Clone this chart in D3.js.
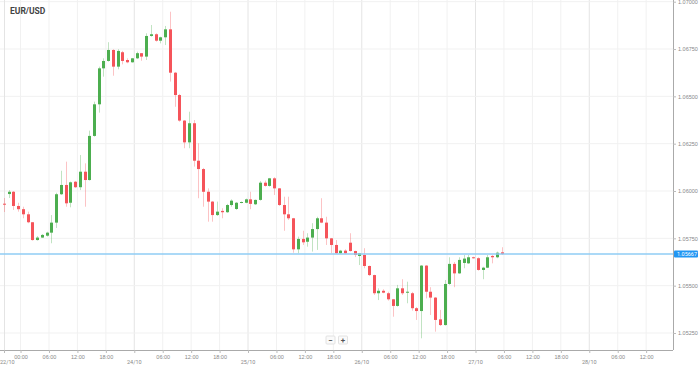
<!DOCTYPE html>
<html lang="en">
<head>
<meta charset="utf-8">
<title>EUR/USD</title>
<script src="https://d3js.org/d3.v7.min.js"></script>
<style>
  body { margin: 0; background: #fff; }
  svg { display: block; font-family: "Roboto", "Liberation Sans", sans-serif; }
</style>
</head>
<body>
<div id="chart"></div>
<script>
// hourly candles, first one opens 22/10 20:00 (UTC)
const firstCandle = Date.UTC(2016, 9, 22, 20);

const open = [
  1.05933, 1.05984, 1.05996, 1.05921, 1.05904, 1.05877, 1.05835, 1.05741, 1.05754, 1.05764,
  1.05780, 1.05833, 1.05983, 1.06032, 1.05938, 1.06049, 1.06020, 1.06102, 1.06058, 1.06291,
  1.06458, 1.06648, 1.06687, 1.06745, 1.06657, 1.06733, 1.06692, 1.06680, 1.06701, 1.06728,
  1.06710, 1.06819, 1.06828, 1.06794, 1.06812, 1.06854, 1.06625, 1.06507, 1.06372, 1.06257,
  1.06358, 1.06160, 1.06116, 1.05996, 1.05944, 1.05873, 1.05895, 1.05888, 1.05926, 1.05905,
  1.05938, 1.05938, 1.05956, 1.05930, 1.05953, 1.06044, 1.06027, 1.06067, 1.06014, 1.05926,
  1.05877, 1.05856, 1.05692, 1.05747, 1.05732, 1.05754, 1.05799, 1.05856, 1.05833, 1.05750,
  1.05715, 1.05671, 1.05685, 1.05727, 1.05683, 1.05657, 1.05662, 1.05604, 1.05556, 1.05460,
  1.05473, 1.05460, 1.05428, 1.05393, 1.05486, 1.05465, 1.05460, 1.05381, 1.05366, 1.05606,
  1.05468, 1.05437, 1.05322, 1.05292, 1.05509, 1.05615, 1.05565, 1.05620, 1.05618, 1.05650,
  1.05645, 1.05583, 1.05595, 1.05657, 1.05650, 1.05676
];
const high = [
  1.05963, 1.06005, 1.06000, 1.05938, 1.05917, 1.05891, 1.05836, 1.05762, 1.05773, 1.05785,
  1.05873, 1.05991, 1.06107, 1.06155, 1.06050, 1.06053, 1.06190, 1.06146, 1.06319, 1.06472,
  1.06657, 1.06701, 1.06786, 1.06749, 1.06749, 1.06740, 1.06701, 1.06703, 1.06736, 1.06729,
  1.06833, 1.06877, 1.06833, 1.06815, 1.06872, 1.06947, 1.06629, 1.06513, 1.06375, 1.06419,
  1.06375, 1.06252, 1.06122, 1.06014, 1.05947, 1.05944, 1.05909, 1.05932, 1.05956, 1.05942,
  1.05945, 1.05960, 1.05996, 1.05955, 1.06053, 1.06055, 1.06069, 1.06073, 1.06016, 1.05970,
  1.05970, 1.05858, 1.05759, 1.05790, 1.05777, 1.05830, 1.05864, 1.05962, 1.05864, 1.05752,
  1.05741, 1.05689, 1.05692, 1.05777, 1.05685, 1.05673, 1.05698, 1.05606, 1.05558, 1.05486,
  1.05481, 1.05468, 1.05430, 1.05504, 1.05534, 1.05521, 1.05467, 1.05387, 1.05609, 1.05609,
  1.05492, 1.05440, 1.05372, 1.05530, 1.05650, 1.05625, 1.05650, 1.05662, 1.05662, 1.05653,
  1.05650, 1.05600, 1.05662, 1.05662, 1.05680, 1.05703
];
const low = [
  1.05889, 1.05963, 1.05900, 1.05891, 1.05856, 1.05830, 1.05738, 1.05738, 1.05752, 1.05759,
  1.05724, 1.05805, 1.05979, 1.05917, 1.05914, 1.06016, 1.06005, 1.05917, 1.06055, 1.06287,
  1.06414, 1.06604, 1.06683, 1.06609, 1.06643, 1.06669, 1.06675, 1.06678, 1.06697, 1.06688,
  1.06692, 1.06815, 1.06789, 1.06780, 1.06771, 1.06578, 1.06445, 1.06366, 1.06226, 1.06226,
  1.06129, 1.05962, 1.05917, 1.05838, 1.05838, 1.05868, 1.05856, 1.05884, 1.05917, 1.05900,
  1.05935, 1.05935, 1.05904, 1.05926, 1.05949, 1.06023, 1.06023, 1.05979, 1.05921, 1.05790,
  1.05847, 1.05674, 1.05671, 1.05715, 1.05706, 1.05680, 1.05689, 1.05830, 1.05715, 1.05671,
  1.05667, 1.05667, 1.05667, 1.05680, 1.05651, 1.05609, 1.05592, 1.05551, 1.05451, 1.05424,
  1.05460, 1.05421, 1.05336, 1.05389, 1.05451, 1.05407, 1.05368, 1.05319, 1.05222, 1.05433,
  1.05345, 1.05257, 1.05287, 1.05289, 1.05504, 1.05492, 1.05562, 1.05592, 1.05615, 1.05643,
  1.05579, 1.05534, 1.05593, 1.05618, 1.05645, 1.05662
];
const close = [
  1.05930, 1.05996, 1.05921, 1.05904, 1.05877, 1.05835, 1.05741, 1.05754, 1.05768, 1.05780,
  1.05833, 1.05983, 1.06032, 1.05935, 1.06046, 1.06020, 1.06102, 1.06058, 1.06291, 1.06458,
  1.06648, 1.06687, 1.06745, 1.06657, 1.06740, 1.06687, 1.06680, 1.06701, 1.06728, 1.06710,
  1.06819, 1.06828, 1.06794, 1.06812, 1.06854, 1.06625, 1.06507, 1.06372, 1.06257, 1.06358,
  1.06160, 1.06116, 1.05996, 1.05944, 1.05873, 1.05891, 1.05888, 1.05926, 1.05949, 1.05938,
  1.05942, 1.05956, 1.05932, 1.05953, 1.06044, 1.06027, 1.06067, 1.06014, 1.05926, 1.05877,
  1.05856, 1.05692, 1.05747, 1.05729, 1.05754, 1.05799, 1.05856, 1.05833, 1.05750, 1.05715,
  1.05671, 1.05685, 1.05671, 1.05683, 1.05662, 1.05671, 1.05604, 1.05556, 1.05460, 1.05473,
  1.05463, 1.05428, 1.05393, 1.05486, 1.05460, 1.05468, 1.05381, 1.05366, 1.05606, 1.05468,
  1.05437, 1.05319, 1.05292, 1.05509, 1.05615, 1.05565, 1.05636, 1.05643, 1.05650, 1.05645,
  1.05583, 1.05595, 1.05650, 1.05650, 1.05674, 1.05667
];

const priceTicks = [1.0525, 1.0550, 1.0575, 1.0600, 1.0625, 1.0650, 1.0675, 1.0700];
const lastPrice = 1.05667;
const title = "EUR/USD";
const pinnedDay = "22/10";

const width = 699, height = 365;
const plotRight = 673, plotBottom = 350;

const green = "#4cae4f", red = "#f5545a";

const svg = d3.select("#chart").append("svg")
  .attr("width", width)
  .attr("height", height);

// time scale: 23/10 00:00 sits at ~20.5px, ~113.75px per day
const x = d3.scaleUtc()
  .domain([new Date(Date.UTC(2016, 9, 22, 19, 40)), new Date(Date.UTC(2016, 9, 28, 17, 40))])
  .range([0, plotRight]);

const y = d3.scaleLinear()
  .domain([1.0525, 1.0700])
  .range([333, 1.7]);

const candles = open.map((o, i) => ({
  t: new Date(firstCandle + i * 3600e3 + 1800e3),
  o: o, h: high[i], l: low[i], c: close[i]
}));

const timeTicks = x.ticks(d3.utcHour.every(6));
// the first midnight is shown as a time, its date is pinned at the left edge
const firstMidnight = +timeTicks.find(d => d.getUTCHours() === 0);
const isDay = d => d.getUTCHours() === 0 && +d !== firstMidnight;

// grid
svg.append("g").selectAll("line")
  .data(timeTicks)
  .join("line")
  .attr("x1", d => x(d)).attr("x2", d => x(d))
  .attr("y1", 0).attr("y2", plotBottom)
  .attr("stroke", d => isDay(d) ? "#e4e4e4" : "#f1f1f1")
  .attr("stroke-width", 1);

svg.append("g").selectAll("line")
  .data(priceTicks)
  .join("line")
  .attr("x1", 0).attr("x2", plotRight)
  .attr("y1", d => y(d)).attr("y2", d => y(d))
  .attr("stroke", "#f1f1f1");

svg.append("line")
  .attr("x1", 4.5).attr("x2", 4.5)
  .attr("y1", 0).attr("y2", plotBottom)
  .attr("stroke", "#e4e4e4");

// candles
const bw = 3;
const cg = svg.append("g");
cg.selectAll("line")
  .data(candles)
  .join("line")
  .attr("x1", d => Math.round(x(d.t)) + 0.5)
  .attr("x2", d => Math.round(x(d.t)) + 0.5)
  .attr("y1", d => y(d.h))
  .attr("y2", d => y(d.l))
  .attr("stroke", d => d.c >= d.o ? green : red)
  .attr("stroke-opacity", 0.35)
  .attr("stroke-width", 1);

cg.selectAll("rect")
  .data(candles)
  .join("rect")
  .attr("x", d => Math.round(x(d.t)) + 0.5 - bw / 2)
  .attr("width", bw)
  .attr("y", d => y(Math.max(d.o, d.c)))
  .attr("height", d => Math.max(1, Math.abs(y(d.o) - y(d.c))))
  .attr("fill", d => d.c >= d.o ? green : red);

// current price line
svg.append("line")
  .attr("x1", 0).attr("x2", plotRight)
  .attr("y1", y(lastPrice)).attr("y2", y(lastPrice))
  .attr("stroke", "#8fcdf5")
  .attr("stroke-width", 1.5);

// axes
svg.append("line")
  .attr("x1", plotRight + 0.5).attr("x2", plotRight + 0.5)
  .attr("y1", 0).attr("y2", plotBottom)
  .attr("stroke", "#aaa");
svg.append("line")
  .attr("x1", 0).attr("x2", plotRight)
  .attr("y1", plotBottom + 0.5).attr("y2", plotBottom + 0.5)
  .attr("stroke", "#aaa");

const yAxis = d3.axisRight(y)
  .tickValues(priceTicks)
  .tickSize(3)
  .tickPadding(2)
  .tickFormat(d3.format(".5f"));
svg.append("g")
  .attr("transform", `translate(${plotRight},0)`)
  .call(yAxis)
  .call(g => g.select(".domain").remove())
  .call(g => g.selectAll("line").attr("stroke", "#bbb"))
  .call(g => g.selectAll("text").attr("fill", "#888").attr("font-size", 5.5).attr("font-family", null));

const xAxis = d3.axisBottom(x)
  .tickValues(timeTicks)
  .tickSize(3)
  .tickPadding(2)
  .tickFormat(d => isDay(d) ? "" : d3.utcFormat("%H:%M")(d));
svg.append("g")
  .attr("transform", `translate(0,${plotBottom})`)
  .call(xAxis)
  .call(g => g.select(".domain").remove())
  .call(g => g.selectAll("line").attr("stroke", "#bbb"))
  .call(g => g.selectAll("text").attr("fill", "#888").attr("font-size", 5.5).attr("font-family", null));

// date labels under midnight ticks
const days = timeTicks.filter(isDay);
const dayFmt = d3.utcFormat("%d/%m");
svg.append("g").selectAll("text")
  .data(days)
  .join("text")
  .attr("x", d => x(d))
  .attr("y", 364)
  .attr("text-anchor", "middle")
  .attr("font-size", 5.5)
  .attr("fill", "#888")
  .text(d => dayFmt(d));

// pinned date at the left edge
svg.append("line")
  .attr("x1", 4.5).attr("x2", 4.5)
  .attr("y1", plotBottom).attr("y2", plotBottom + 3)
  .attr("stroke", "#bbb");
svg.append("text")
  .attr("x", 0).attr("y", 364)
  .attr("font-size", 5.5)
  .attr("fill", "#888")
  .text(pinnedDay);

// last price label
const ly = y(lastPrice);
svg.append("rect")
  .attr("x", plotRight + 1).attr("y", ly - 3.5)
  .attr("width", 24).attr("height", 7)
  .attr("rx", 1)
  .attr("fill", "#2196f3");
svg.append("text")
  .attr("x", plotRight + 4).attr("y", ly + 2)
  .attr("font-size", 5.5)
  .attr("fill", "#fff")
  .text(d3.format(".5f")(lastPrice));

// title
svg.append("text")
  .attr("x", 10).attr("y", 14)
  .attr("font-size", 8.5)
  .attr("font-weight", "bold")
  .attr("fill", "#444")
  .text(title);

// zoom buttons
const btns = svg.append("g");
[["\u2212", 326], ["+", 338.5]].forEach(([s, bx]) => {
  btns.append("rect")
    .attr("x", bx).attr("y", 336)
    .attr("width", 9).attr("height", 8)
    .attr("rx", 1)
    .attr("fill", "#fafafa")
    .attr("stroke", "#e2e2e2");
  btns.append("text")
    .attr("x", bx + 4.5).attr("y", 342.5)
    .attr("text-anchor", "middle")
    .attr("font-size", 8)
    .attr("font-weight", "bold")
    .attr("fill", "#555")
    .text(s);
});
</script>
</body>
</html>
